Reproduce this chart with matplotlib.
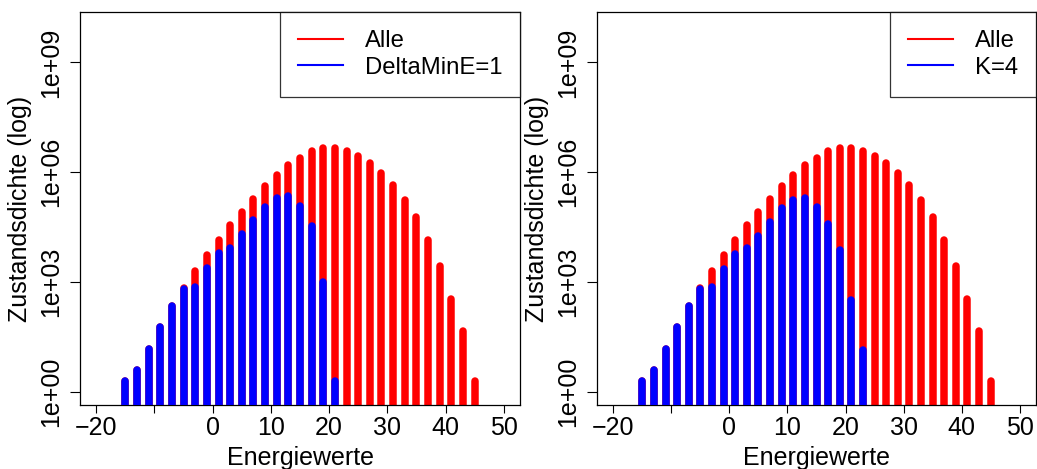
import numpy as np
import matplotlib
matplotlib.use("Agg")
import matplotlib.pyplot as plt

plt.rcParams['font.family'] = ['Liberation Sans', 'DejaVu Sans']

# ---------------- data ----------------
energy_all = list(range(-15, 46, 2))
count_all = [2, 4, 15, 59, 219, 690, 2000, 5400, 14000, 35000, 83000,
             190000, 420000, 850000, 1.6e6, 2.5e6, 3.7e6, 4.5e6, 4.6e6,
             3.9e6, 2.8e6, 1.8e6, 950000, 440000, 170000, 59000, 14000,
             2800, 340, 47, 2]

energy_delta = list(range(-15, 22, 2))
count_delta = [2, 4, 15, 59, 219, 630, 720, 2400, 6200, 8700, 21000, 50000,
               112000, 200000, 220000, 123000, 33000, 1020, 2]

energy_k4 = list(range(-15, 24, 2))
count_k4 = [2, 4, 15, 59, 219, 630, 720, 2300, 5900, 8500, 18600, 43600,
            102000, 178000, 200000, 112000, 39000, 7400, 330, 14]

x_ticks = [-20, -10, 0, 10, 20, 30, 40, 50]
x_ticklabels = ["\u221220", "", "0", "10", "20", "30", "40", "50"]
y_ticks = [1, 1e3, 1e6, 1e9]
y_ticklabels = ["1e+00", "1e+03", "1e+06", "1e+09"]

panels = [("DeltaMinE=1", energy_delta, count_delta),
          ("K=4", energy_k4, count_k4)]

# ---------------- figure ----------------
W, H = 1037, 469
fig = plt.figure(figsize=(W / 100, H / 100), dpi=100)
FS = 18
LFS = 17.2
LW = 5.4

positions = [(80, 12, 440, 393), (597, 12, 439, 393)]

for (label, ex, cx), (px, py, pw, ph) in zip(panels, positions):
    ax = fig.add_axes([px / W, 1 - (py + ph) / H, pw / W, ph / H])
    ax.set_yscale('log')
    ymin, ymax = 10 ** -0.363, 10 ** 10.38
    base = 1e-3
    for xv, yv in zip(energy_all, count_all):
        ax.plot([xv, xv], [base, yv], color='#ff0000', lw=LW,
                solid_capstyle='round', zorder=2)
    for xv, yv in zip(ex, cx):
        ax.plot([xv, xv], [base, yv], color='#0000ff', lw=LW,
                solid_capstyle='round', zorder=3)
    ax.set_xlim(-22.8, 52.8)
    ax.set_ylim(ymin, ymax)
    ax.set_xticks(x_ticks)
    ax.set_xticklabels(x_ticklabels, fontsize=FS)
    ax.set_yticks(y_ticks)
    ax.set_yticklabels(y_ticklabels, fontsize=FS, rotation=90, va='center')
    ax.minorticks_off()
    ax.tick_params(axis='x', direction='out', length=6, width=0.8,
                   color='black', pad=2)
    ax.tick_params(axis='y', direction='out', length=7, width=0.8,
                   color='black', pad=5)
    for s in ax.spines.values():
        s.set_linewidth(0.9)
        s.set_color('black')
    ax.set_xlabel("Energiewerte", fontsize=FS, labelpad=4)
    ax.set_ylabel("Zustandsdichte (log)", fontsize=FS, labelpad=5)
    h1, = ax.plot([], [], color='#ff0000', lw=1.5)
    h2, = ax.plot([], [], color='#0000ff', lw=1.5)
    leg = ax.legend([h1, h2], ["Alle", label], loc='upper right',
                    fontsize=LFS, frameon=True, fancybox=False,
                    borderaxespad=0, borderpad=0.75, handlelength=1.88,
                    handletextpad=0.92, labelspacing=0.2)
    leg.get_frame().set_edgecolor('black')
    leg.get_frame().set_linewidth(0.9)

fig.savefig("out.png", dpi=100)
